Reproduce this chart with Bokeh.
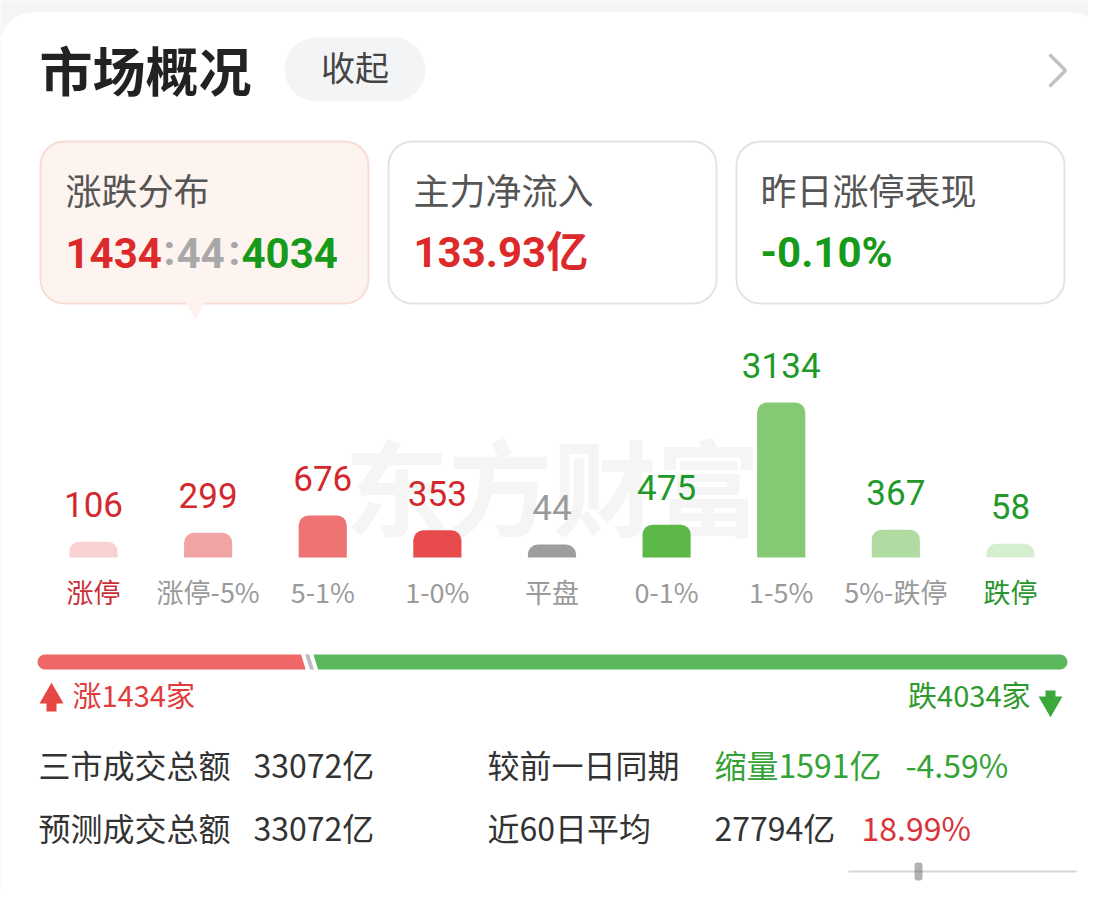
from bokeh.plotting import figure
from bokeh.models import Range1d
from bokeh.core.properties import value
from bokeh.embed import file_html
from bokeh.resources import INLINE

# ---------------- data ----------------
categories = ["涨停", "涨停-5%", "5-1%", "1-0%", "平盘", "0-1%", "1-5%", "5%-跌停", "跌停"]
counts = [106, 299, 676, 353, 44, 475, 3134, 367, 58]
bar_colors = ["#f9d1d1", "#f2a4a4", "#ee7474", "#e84b4b", "#9e9e9e",
              "#5cb847", "#85c975", "#b0dca2", "#d5eecf"]
count_colors = ["#d3292e"] * 4 + ["#9a9a9a"] + ["#1f9a2a"] * 4
cat_colors = ["#c9303a"] + ["#9a9a9a"] * 7 + ["#2a952e"]

up_total, flat_total, down_total = 1434, 44, 4034
card_titles = ["涨跌分布", "主力净流入", "昨日涨停表现"]
net_inflow = "133.93亿"
limit_up_perf = "-0.10%"
stat_labels = ["三市成交总额", "预测成交总额", "较前一日同期", "近60日平均"]
turnover = "33072亿"
forecast = "33072亿"
vs_prev = "缩量1591亿"
vs_prev_pct = "-4.59%"
avg60 = "27794亿"
avg60_pct = "18.99%"

CJK = "Noto Sans CJK SC"
NUM = "Roboto, 'Noto Sans CJK SC'"

W, H = 1088, 891
# ---------------- figure (data x/y == picture pixel x/y) ----------------
p = figure(width=W, height=H, x_range=Range1d(0, W), y_range=Range1d(H, 0),
           output_backend="svg", toolbar_location=None, min_border=0,
           x_axis_location=None, y_axis_location=None)
p.grid.visible = False
p.outline_line_color = None
p.background_fill_color = "#f4f5f7"
p.border_fill_color = "#f4f5f7"

# bar-chart scales: category index along x, counts along y (0 -> y 546, 3134 -> y 402)
upp = 21.75  # counts per pixel
total = up_total + flat_total + down_total
n = len(categories)
cat_idx = list(range(n))
p.extra_x_ranges = {
    "cat": Range1d(-0.8115, 8.681),
    "split": Range1d(-198.0, total + 112.4),
}
p.extra_y_ranges = {"bars": Range1d(-(H - 546) * upp, 546 * upp)}


def txt(x, y, s, size, color, font=CJK, style="normal", align="left", alpha=1.0):
    p.text(x=[x], y=[y], text=[s], text_font=value(font), text_font_size=value(f"{size}px"),
           text_color=color, text_font_style=style, text_align=align,
           text_baseline="middle", text_alpha=alpha,
           y_offset=-4 if font == CJK else 0)


# white card
p.quad(left=0, right=1104, top=12, bottom=960, fill_color="white", line_color=None,
       border_radius=32)

# header
txt(39, 72, "市场概况", 53, "#222222", style="bold")
p.quad(left=284, right=425, top=37, bottom=101, fill_color="#f3f4f6", line_color=None,
       border_radius=32)
txt(354.5, 70, "收起", 34, "#444444", align="center")
p.line(x=[1049, 1065, 1049], y=[54, 70, 86], line_color="#c2c2c2", line_width=3.5)

# three cards
p.quad(left=40, right=368, top=141, bottom=303, fill_color="#fdf4f0", line_color="#f7ddd3",
       line_width=2, border_radius=24)
p.scatter(x=[195], y=[306], marker="inverted_triangle", size=22, fill_color="#fdf4f0",
          line_color=None)
for l in (388, 736):
    p.quad(left=l, right=l + 328, top=141, bottom=303, fill_color="white",
           line_color="#e4e4e4", line_width=2, border_radius=24)
for xx, t in zip((65, 413, 760), card_titles):
    txt(xx, 192, t, 36, "#555555")

txt(65, 252, str(up_total), 42, "#dc2a2a", font=NUM, style="bold")
txt(169, 250, ":", 42, "#a8a8a8", font=NUM, style="bold", align="center")
txt(176, 252, str(flat_total), 42, "#a8a8a8", font=NUM, style="bold")
txt(234, 250, ":", 42, "#a8a8a8", font=NUM, style="bold", align="center")
txt(241, 252, str(down_total), 42, "#179a1a", font=NUM, style="bold")
txt(413, 252, net_inflow, 42, "#dc2a2a", font=NUM, style="bold")
txt(760, 252, limit_up_perf, 42, "#179a1a", font=NUM, style="bold")

# watermark
txt(552, 487, "东方财富", 104, "#f5f5f5", style="bold", align="center")

# bars
p.vbar(x=cat_idx, top=counts, bottom=-11 * upp, width=0.42, fill_color=bar_colors,
       line_color=None, border_radius=(10, 10, 0, 0),
       x_range_name="cat", y_range_name="bars")
p.text(x=cat_idx, y=counts, text=[str(c) for c in counts],
       text_font=value("Roboto"), text_font_size=value("35px"), text_color=count_colors,
       text_align="center", text_baseline="middle", y_offset=-37,
       x_range_name="cat", y_range_name="bars")
p.text(x=cat_idx, y=[591] * n, text=categories,
       text_font=value(CJK), text_font_size=value("27px"), text_color=cat_colors,
       text_align="center", text_baseline="middle", x_range_name="cat")

# split bar
a = up_total
b = up_total + flat_total
c = total
p.hbar(y=[661.5], left=[0], right=[a], height=15, fill_color="#f06767", line_color=None,
       border_radius=(8, 0, 0, 8), x_range_name="split")
p.hbar(y=[661.5], left=[a], right=[b], height=15, fill_color="#bdbdbd", line_color=None,
       x_range_name="split")
p.hbar(y=[661.5], left=[b], right=[c], height=15, fill_color="#5cb85c", line_color=None,
       border_radius=(0, 8, 8, 0), x_range_name="split")
sl = 3 * total / 1030  # 3px expressed in split units
p.segment(x0=[a - sl, b - sl], y0=[652, 652], x1=[a + sl, b + sl], y1=[671, 671],
          line_color="white", line_width=4, x_range_name="split")

# up / down counts
p.scatter(x=[51], y=[696], marker="triangle", size=24, fill_color="#e84545", line_color=None)
p.quad(left=46, right=56, top=698, bottom=711, fill_color="#e84545", line_color=None)
txt(72, 697, f"涨{up_total}家", 29, "#e03c3c")
p.scatter(x=[1050], y=[703], marker="inverted_triangle", size=24, fill_color="#3ca83c",
          line_color=None)
p.quad(left=1045, right=1055, top=690, bottom=702, fill_color="#3ca83c", line_color=None)
txt(1030, 697, f"跌{down_total}家", 29, "#2e9a2e", align="right")

# stats
txt(38, 767, stat_labels[0], 32, "#333333")
txt(38, 830, stat_labels[1], 32, "#333333")
txt(253, 767, turnover, 32, "#333333")
txt(253, 830, forecast, 32, "#333333")
txt(487, 767, stat_labels[2], 32, "#333333")
txt(487, 830, stat_labels[3], 32, "#333333")
txt(714, 767, vs_prev, 32, "#34a234")
txt(905, 767, vs_prev_pct, 32, "#34a234")
txt(714, 830, avg60, 32, "#333333")
txt(861, 830, avg60_pct, 32, "#d8343a")

# scroll artefact
p.line(x=[848, 1076], y=[871, 871], line_color="#bdbdbd", line_width=2, line_alpha=0.6)
p.quad(left=914, right=922, top=862, bottom=880, fill_color="#666666", line_color=None,
       fill_alpha=0.5, border_radius=3)

open("out.html", "w").write(file_html(p, INLINE))
